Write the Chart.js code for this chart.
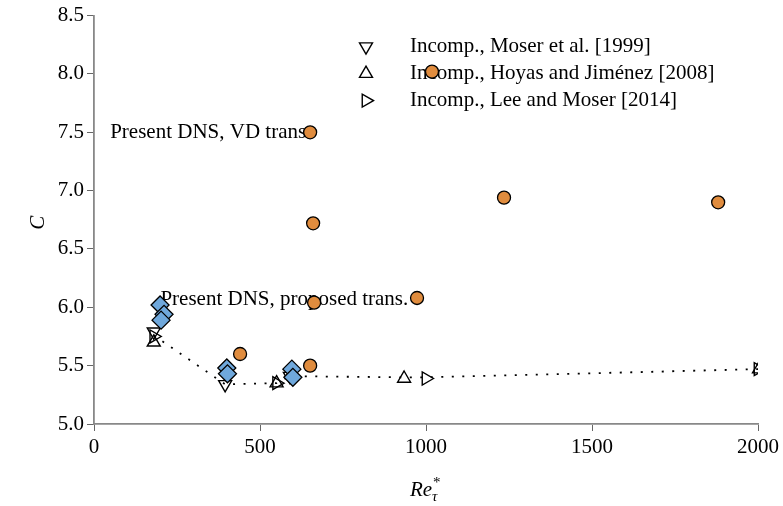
<!DOCTYPE html>
<html>
<head>
<meta charset="utf-8">
<script src="https://cdn.jsdelivr.net/npm/chart.js@4.4.0/dist/chart.umd.min.js"></script>
<style>
  body { margin: 0; background: #fff; }
  #wrap { width: 783px; height: 506px; }
</style>
</head>
<body>
<div id="wrap"><canvas id="cChart" width="783" height="506"></canvas></div>
<script>
// Log-law constant C vs. Re_tau*

const serif = "'Liberation Serif', 'Times New Roman', serif";

// present DNS, van Driest transformation
const vdRe = [440, 651, 663, 660, 651, 973, 1018, 1235, 1880];
const vdC = [5.60, 5.50, 6.04, 6.72, 7.50, 6.08, 8.02, 6.94, 6.90];

// present DNS, proposed transformation
const propRe = [199, 211, 202, 400, 402, 596, 599];
const propC = [6.02, 5.94, 5.89, 5.48, 5.43, 5.47, 5.40];

// incompressible reference data
const mkmRe = [180, 395, 590];
const mkmC = [5.79, 5.34, 5.41];
const hjRe = [180, 550, 934, 2003];
const hjC = [5.70, 5.35, 5.39, 5.47];
const lmRe = [180, 550, 1000, 2000];
const lmC = [5.75, 5.35, 5.39, 5.47];

// dotted curve through the incompressible values
const fitRe = [180, 395, 550, 590, 934, 1000, 2000];
const fitC = [5.76, 5.34, 5.35, 5.41, 5.40, 5.40, 5.47];

const xTicks = [0, 500, 1000, 1500, 2000];
const yTicks = [5.0, 5.5, 6.0, 6.5, 7.0, 7.5, 8.0, 8.5];

function pts(xs, ys) {
    return xs.map((x, i) => ({ x: x, y: ys[i] }));
}

function marker(label, xs, ys, style, rot, inKey) {
    return {
        label: label,
        data: pts(xs, ys),
        pointStyle: style,
        rotation: rot,
        pointRadius: 7.5,
        pointBorderWidth: 1.4,
        borderColor: '#000',
        backgroundColor: 'rgba(255,255,255,0)',
        showLine: false,
        inKey: inKey
    };
}

// in-plot key and the two text labels, drawn under the markers
const textPlugin = {
    id: 'textLayer',
    beforeDatasetsDraw(chart) {
        const ctx = chart.ctx;
        const xs = chart.scales.x, ys = chart.scales.y;
        const area = chart.chartArea;
        ctx.save();
        ctx.fillStyle = '#000';
        ctx.font = '21px ' + serif;
        ctx.textBaseline = 'middle';

        ctx.textAlign = 'right';
        ctx.fillText('Present DNS, VD trans', xs.getPixelForValue(651) - 4, ys.getPixelForValue(7.5));
        ctx.textAlign = 'left';
        ctx.fillText('Present DNS, proposed trans.', xs.getPixelForValue(200), ys.getPixelForValue(6.07));

        let row = 0;
        chart.data.datasets.forEach(ds => {
            if (!ds.inKey) return;
            const y = area.top + 31 + row * 27;
            const mx = area.left + 272;
            ctx.strokeStyle = '#000';
            ctx.fillStyle = 'rgba(255,255,255,0)';
            ctx.lineWidth = 1.4;
            Chart.helpers.drawPoint(ctx, { pointStyle: ds.pointStyle, radius: 7.5, rotation: ds.rotation, borderWidth: 1.4 }, mx, y);
            ctx.fillStyle = '#000';
            ctx.fillText(ds.label, area.left + 316, y);
            row++;
        });
        ctx.restore();
    },
    afterDraw(chart) {
        const ctx = chart.ctx;
        const area = chart.chartArea;
        ctx.save();
        ctx.fillStyle = '#000';
        ctx.textBaseline = 'middle';
        // y title
        ctx.font = 'italic 21px ' + serif;
        ctx.translate(38, (area.top + area.bottom) / 2 + 3);
        ctx.rotate(-Math.PI / 2);
        ctx.textAlign = 'center';
        ctx.fillText('C', 0, 0);
        ctx.restore();

        // x title: Re with * superscript and tau subscript
        ctx.save();
        ctx.fillStyle = '#000';
        ctx.textBaseline = 'alphabetic';
        const cx = (area.left + area.right) / 2;
        const base = 496;
        ctx.font = 'italic 21px ' + serif;
        const w = ctx.measureText('Re').width;
        const x0 = cx - (w + 10) / 2;
        ctx.fillText('Re', x0, base);
        ctx.font = '15px ' + serif;
        ctx.fillText('*', x0 + w + 1, base - 9);
        ctx.font = 'italic 15px ' + serif;
        ctx.fillText('\u03C4', x0 + w, base + 5);
        ctx.restore();
    }
};

const chartData = {
    datasets: [
        {
            label: 'Present DNS, proposed trans.',
            data: pts(propRe, propC),
            pointStyle: 'rectRot',
            pointRadius: 9,
            pointBorderWidth: 1.3,
            borderColor: '#000',
            backgroundColor: '#6fa8dc',
            showLine: false
        },
        {
            label: 'Present DNS, VD trans',
            data: pts(vdRe, vdC),
            pointStyle: 'circle',
            pointRadius: 6.5,
            pointBorderWidth: 1.3,
            borderColor: '#000',
            backgroundColor: '#e08c3e',
            showLine: false
        },
        marker('Incomp., Moser et al. [1999]', mkmRe, mkmC, 'triangle', 180, true),
        marker('Incomp., Hoyas and Jiménez [2008]', hjRe, hjC, 'triangle', 0, true),
        marker('Incomp., Lee and Moser [2014]', lmRe, lmC, 'triangle', 90, true),
        {
            label: 'fit',
            data: pts(fitRe, fitC),
            showLine: true,
            pointRadius: 0,
            borderColor: '#000',
            borderWidth: 1.8,
            borderDash: [2, 8.5],
            tension: 0
        }
    ]
};

const chartOptions = {
    responsive: false,
    animation: false,
    layout: { padding: { top: 14, right: 25, left: 0, bottom: 0 } },
    plugins: {
        legend: { display: false },
        tooltip: { enabled: false }
    },
    scales: {
        x: {
            type: 'linear',
            min: 0,
            max: 2000,
            afterBuildTicks: s => { s.ticks = xTicks.map(v => ({ value: v })); },
            afterFit: s => { s.height = 82; },
            ticks: { color: '#000', font: { family: serif, size: 21 }, padding: 4, maxRotation: 0, callback: v => String(v) },
            grid: { drawOnChartArea: false, tickLength: 7, color: '#666', tickWidth: 1 },
            border: { color: '#888', width: 1.8 }
        },
        y: {
            min: 5,
            max: 8.5,
            afterBuildTicks: s => { s.ticks = yTicks.map(v => ({ value: v })); },
            afterFit: s => { s.width = 94; },
            ticks: { color: '#000', font: { family: serif, size: 21 }, padding: 3, callback: v => v.toFixed(1) },
            grid: { drawOnChartArea: false, tickLength: 7, color: '#666', tickWidth: 1 },
            border: { color: '#888', width: 1.8 }
        }
    }
};

const cChart = new Chart(document.getElementById('cChart'), {
    type: 'scatter',
    data: chartData,
    options: chartOptions,
    plugins: [textPlugin]
});
</script>
</body>
</html>
